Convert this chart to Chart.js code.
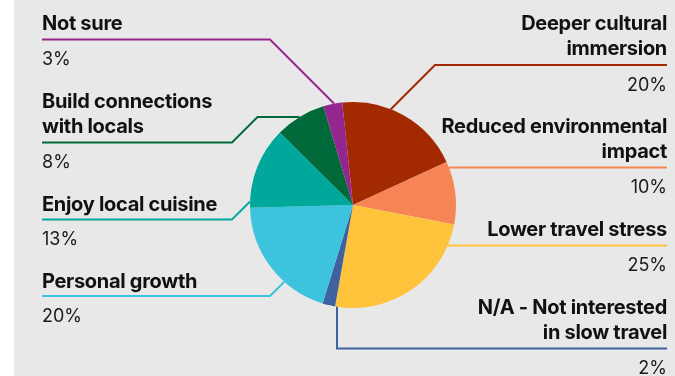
<!DOCTYPE html>
<html>
<head>
<meta charset="utf-8">
<script src="https://cdn.jsdelivr.net/npm/chart.js@4.4.1/dist/chart.umd.min.js"></script>
<style>
  html, body { margin: 0; padding: 0; background: #fff; }
  #wrap { width: 675px; height: 376px; }
</style>
</head>
<body>
<div id="wrap"><canvas id="pie" width="675" height="376"></canvas></div>
<script>
// survey answers, clockwise from the top
const categories = [
  'Deeper cultural immersion',
  'Reduced environmental impact',
  'Lower travel stress',
  'N/A - Not interested in slow travel',
  'Personal growth',
  'Enjoy local cuisine',
  'Build connections with locals',
  'Not sure'
];
const shares = [20, 10, 25, 2, 20, 13, 8, 3];
const sliceColors = ['#a32900', '#f68555', '#ffc43c', '#3e61a0', '#3ec3de', '#00a89b', '#00693a', '#93278f'];

// how each label is wrapped onto lines
const labelLines = [
  ['Deeper cultural', 'immersion'],
  ['Reduced environmental', 'impact'],
  ['Lower travel stress'],
  ['N/A - Not interested', 'in slow travel'],
  ['Personal growth'],
  ['Enjoy local cuisine'],
  ['Build connections', 'with locals'],
  ['Not sure']
];

// where the labels sit and how their leader lines reach the pie
const labelLayout = [
  { side: 'right', top: 30, underline: 65, elbow: 435, route: 'diag' },
  { side: 'right', top: 133, underline: 167.5, route: 'flat' },
  { side: 'right', top: 236, underline: 245.5, route: 'flat' },
  { side: 'right', top: 314, underline: 348.5, elbow: 337, route: 'drop' },
  { side: 'left', top: 288, underline: 296, elbow: 270, route: 'diag' },
  { side: 'left', top: 211, underline: 219.5, elbow: 232, route: 'diag' },
  { side: 'left', top: 108, underline: 142.5, elbow: 232, kink: 117, route: 'diag' },
  { side: 'left', top: 30, underline: 39.5, elbow: 270, route: 'diag' }
];

const LEFT_X = 42, RIGHT_X = 667, LINE_GAP = 24.5, VALUE_GAP = 25.5;

// first point where a ray from (x0,y0) along (ux,uy) meets the circle
function hitCircle(x0, y0, ux, uy, cx, cy, r) {
  const len = Math.hypot(ux, uy);
  ux /= len; uy /= len;
  const fx = x0 - cx, fy = y0 - cy;
  const b = fx * ux + fy * uy;
  const c = fx * fx + fy * fy - r * r;
  const t = -b - Math.sqrt(Math.max(0, b * b - c));
  return [x0 + ux * t, y0 + uy * t];
}

const backdrop = {
  id: 'backdrop',
  beforeDraw(chart) {
    const ctx = chart.ctx;
    ctx.save();
    ctx.fillStyle = '#e8e8e8';
    ctx.fillRect(14, 0, chart.width - 14, chart.height);
    ctx.restore();
  }
};

const calloutLabels = {
  id: 'calloutLabels',
  afterDatasetsDraw(chart) {
    const ctx = chart.ctx;
    const arcs = chart.getDatasetMeta(0).data;
    ctx.save();
    arcs.forEach((arc, i) => {
      const lay = labelLayout[i];
      const cx = arc.x, cy = arc.y, r = arc.outerRadius;
      const left = lay.side === 'left';
      const tx = left ? LEFT_X : RIGHT_X;
      const color = sliceColors[i];

      // text
      ctx.textAlign = left ? 'left' : 'right';
      ctx.textBaseline = 'alphabetic';
      ctx.fillStyle = '#111';
      ctx.font = '700 20px Inter';
      ctx.letterSpacing = '-0.3px';
      labelLines[i].forEach((line, k) => ctx.fillText(line, tx, lay.top + k * LINE_GAP));
      ctx.font = '400 18px Inter';
      ctx.letterSpacing = '0px';
      ctx.fillStyle = '#1a1a1a';
      ctx.fillText(shares[i] + '%', tx, lay.underline + VALUE_GAP);

      // leader line
      ctx.strokeStyle = color;
      ctx.lineWidth = 2;
      ctx.lineJoin = 'miter';
      ctx.beginPath();
      const y = lay.underline;
      ctx.moveTo(tx, y);
      if (lay.route === 'flat') {
        const dir = left ? 1 : -1;
        const p = hitCircle(tx, y, dir, 0, cx, cy, r);
        ctx.lineTo(p[0], p[1]);
      } else if (lay.route === 'drop') {
        ctx.lineTo(lay.elbow, y);
        const p = hitCircle(lay.elbow, y, 0, y > cy ? -1 : 1, cx, cy, r);
        ctx.lineTo(p[0], p[1]);
      } else {
        ctx.lineTo(lay.elbow, y);
        const dx = left ? 1 : -1;
        if (lay.kink !== undefined) {
          const kx = lay.elbow + dx * Math.abs(y - lay.kink);
          ctx.lineTo(kx, lay.kink);
          const p = hitCircle(kx, lay.kink, dx, 0, cx, cy, r);
          ctx.lineTo(p[0], p[1]);
        } else {
          const dy = y < cy ? 1 : -1;
          const p = hitCircle(lay.elbow, y, dx, dy, cx, cy, r);
          ctx.lineTo(p[0], p[1]);
        }
      }
      ctx.stroke();
    });
    ctx.restore();
  }
};

new Chart(document.getElementById('pie'), {
  type: 'pie',
  data: {
    labels: categories,
    datasets: [{
      data: shares,
      backgroundColor: sliceColors,
      borderWidth: 0
    }]
  },
  options: {
    responsive: false,
    animation: false,
    rotation: -6,
    layout: { padding: { left: 250, right: 219, top: 102, bottom: 68 } },
    plugins: {
      legend: { display: false },
      tooltip: { enabled: false }
    }
  },
  plugins: [backdrop, calloutLabels]
});
</script>
</body>
</html>
